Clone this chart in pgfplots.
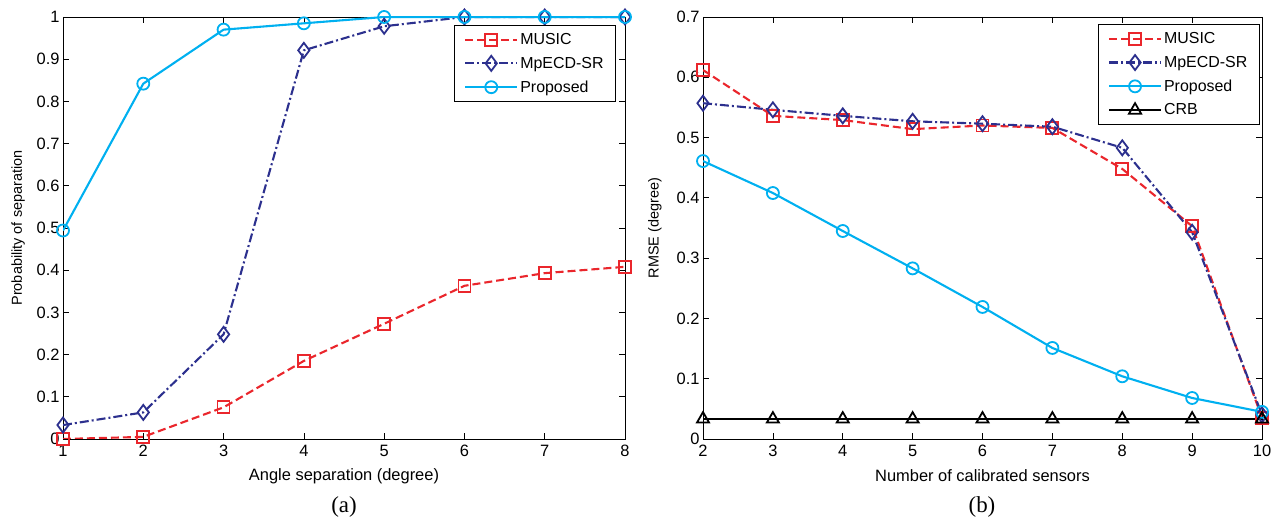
\documentclass[border=0pt]{standalone}
\usepackage{fontspec}
\setmainfont{Liberation Sans}
\newfontfamily\capfont{Liberation Serif}
\usepackage{pgfplots}
\pgfplotsset{compat=1.18}
\definecolor{cmusic}{RGB}{234,38,44}
\definecolor{cmp}{RGB}{44,48,142}
\definecolor{cprop}{RGB}{0,176,240}

\pgfplotsset{
  panel/.style={
    scale only axis, height=422bp,
    tick align=inside, axis line style={line width=0.9bp},
    every tick/.style={black, line width=0.7bp}, major tick length=6bp,
    /pgf/number format/assume math mode=true,
    ticklabel style={font=\fontsize{16.5}{18}\selectfont},
    xticklabel style={yshift=-3bp},
    xlabel style={font=\fontsize{16.5}{18}\selectfont, at={(axis description cs:0.5,0)}, anchor=center, yshift=-37bp},
    ylabel style={font=\fontsize{14.5}{16}\selectfont, anchor=center},
    yticklabel style={/pgf/number format/fixed, /pgf/number format/precision=1},
    legend cell align=left,
    legend style={draw=black, line width=0.9bp, font=\fontsize{16}{18}\selectfont,
      inner xsep=10bp, inner ysep=6bp, row sep=7bp},
    legend image code/.code={
      \draw[line width=2.1bp, mark repeat=2, mark phase=2] plot coordinates {(0bp,0bp) (26bp,0bp) (52bp,0bp)};},
  },
  music/.style={cmusic, line width=2.1bp, dash pattern=on 8bp off 4bp, mark=square,
    mark size=6bp, mark options={solid, line width=1.8bp}},
  mped/.style={cmp, line width=2.1bp, dash pattern=on 9bp off 3bp on 2bp off 3bp, mark=diamond,
    mark size=7.5bp, mark options={solid, line width=1.8bp}},
  prop/.style={cprop, line width=2.1bp, mark=o, mark size=6bp, mark options={solid, line width=1.8bp}},
  crb/.style={black, line width=2.1bp, mark=triangle, mark size=7bp, mark options={solid, line width=1.8bp}},
}

\begin{document}
\begin{tikzpicture}[x=1bp,y=1bp]
\useasboundingbox (0,0) rectangle (1278,521);

\begin{axis}[panel, width=562bp, at={(63bp,82bp)}, anchor=south west,
  xmin=1, xmax=8, ymin=0, ymax=1,
  xtick={1,...,8}, ytick={0,0.1,...,1.0},
  xlabel={Angle separation (degree)}, ylabel={Probability of separation},
  ylabel style={at={(axis description cs:-0.080,0.5)}},
  legend style={at={(0.984,0.981)}, anchor=north east}]
\addplot[music] coordinates {(1,0) (2,0.005) (3,0.075) (4,0.185) (5,0.273) (6,0.363) (7,0.393) (8,0.408)};
\addlegendentry{MUSIC}
\addplot[mped] coordinates {(1,0.033) (2,0.063) (3,0.248) (4,0.921) (5,0.978) (6,1) (7,1) (8,1)};
\addlegendentry{MpECD-SR}
\addplot[prop] coordinates {(1,0.494) (2,0.842) (3,0.970) (4,0.985) (5,1) (6,1) (7,1) (8,1)};
\addlegendentry{Proposed}
\end{axis}

\begin{axis}[panel, width=559bp, at={(703bp,82bp)}, anchor=south west,
  xmin=2, xmax=10, ymin=0, ymax=0.7,
  xtick={2,...,10}, ytick={0,0.1,...,0.7},
  xlabel={Number of calibrated sensors}, ylabel={RMSE (degree)},
  ylabel style={at={(axis description cs:-0.086,0.5)}},
  legend style={at={(0.996,0.983)}, anchor=north east}]
\addplot[music] coordinates {(2,0.612) (3,0.536) (4,0.529) (5,0.514) (6,0.520) (7,0.516) (8,0.448) (9,0.353) (10,0.035)};
\addlegendentry{MUSIC}
\addplot[mped] coordinates {(2,0.557) (3,0.546) (4,0.536) (5,0.527) (6,0.523) (7,0.518) (8,0.483) (9,0.343) (10,0.040)};
\addlegendentry{MpECD-SR}
\addplot[prop] coordinates {(2,0.461) (3,0.408) (4,0.345) (5,0.283) (6,0.219) (7,0.151) (8,0.104) (9,0.068) (10,0.045)};
\addlegendentry{Proposed}
\addplot[crb] coordinates {(2,0.033) (3,0.033) (4,0.033) (5,0.033) (6,0.033) (7,0.033) (8,0.033) (9,0.033) (10,0.033)};
\addlegendentry{CRB}
\end{axis}

\node[font=\capfont\fontsize{23}{25}\selectfont] at (344,14) {(a)};
\node[font=\capfont\fontsize{23}{25}\selectfont] at (982,14) {(b)};
\end{tikzpicture}
\end{document}
